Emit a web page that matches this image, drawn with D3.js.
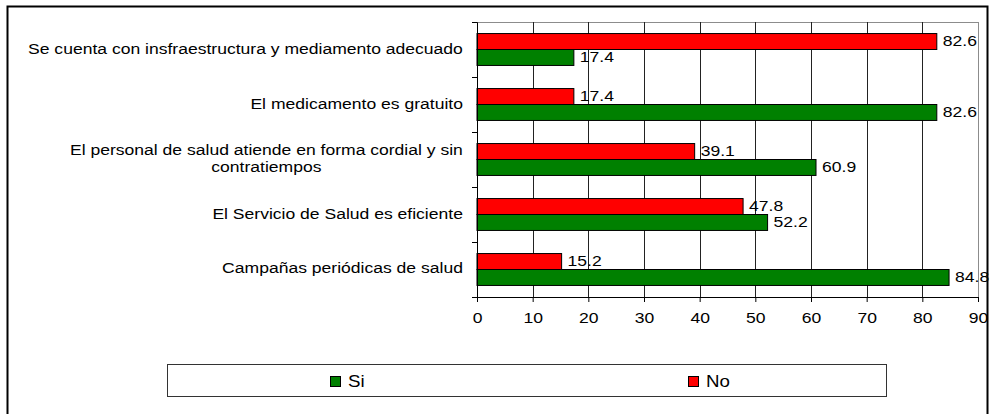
<!DOCTYPE html>
<html>
<head>
<meta charset="utf-8">
<script src="https://cdn.jsdelivr.net/npm/d3@7/dist/d3.min.js"></script>
<style>
  html, body { margin: 0; padding: 0; background: #fff; }
  svg { display: block; }
  text { font-family: "Liberation Sans", Arial, sans-serif; fill: #000; }
</style>
</head>
<body>
<svg id="chart" width="991" height="414"></svg>
<script>
// Survey statements (top to bottom); "\n" marks a line break in the label
const categories = [
  "Se cuenta con insfraestructura y mediamento adecuado",
  "El medicamento es gratuito",
  "El personal de salud atiende en forma cordial y sin\ncontratiempos",
  "El Servicio de Salud es eficiente",
  "Campañas periódicas de salud"
];
const seriesNames = ["No", "Si"];
const siValues = [17.4, 82.6, 60.9, 52.2, 84.8];
const noValues = [82.6, 17.4, 39.1, 47.8, 15.2];
const xTicks = [0, 10, 20, 30, 40, 50, 60, 70, 80, 90];

const colors = { Si: "#008000", No: "#ff0000" };
const values = { Si: siValues, No: noValues };
const fontSize = 15;
const stretch = 1.17; // wide-set lettering used throughout the chart

const svg = d3.select("#chart");

// Outer frame
svg.append("rect")
  .attr("x", 7.5).attr("y", 6.5)
  .attr("width", 980).attr("height", 430)
  .attr("fill", "none").attr("stroke", "#000").attr("stroke-width", 2);

const plot = { left: 477, right: 978, top: 22, bottom: 297 };

const x = d3.scaleLinear().domain([0, 90]).range([plot.left, plot.right]);
const y = d3.scaleBand().domain(categories)
  .range([plot.top, plot.bottom])
  .paddingInner(0.42).paddingOuter(0.21);
const ySeries = d3.scaleBand().domain(seriesNames).range([0, y.bandwidth()]);
const yEdges = d3.scaleLinear().domain([0, categories.length]).range([plot.top, plot.bottom]);

// Plot frame (top and right) and vertical gridlines
svg.append("line")
  .attr("x1", plot.left).attr("x2", plot.right)
  .attr("y1", plot.top + 0.5).attr("y2", plot.top + 0.5)
  .attr("stroke", "#8c8c8c");
svg.append("line")
  .attr("x1", x(90) + 0.5).attr("x2", x(90) + 0.5)
  .attr("y1", plot.top).attr("y2", plot.bottom)
  .attr("stroke", "#8c8c8c");
svg.append("g").selectAll("line")
  .data(xTicks.filter(t => t > 0 && t < 90))
  .join("line")
  .attr("x1", d => Math.round(x(d)) + 0.5).attr("x2", d => Math.round(x(d)) + 0.5)
  .attr("y1", plot.top).attr("y2", plot.bottom)
  .attr("stroke", "#222").attr("stroke-width", 1);

// Bars
const groups = svg.append("g").selectAll("g")
  .data(categories)
  .join("g")
  .attr("transform", d => `translate(0,${y(d)})`);

groups.selectAll("rect")
  .data((d, i) => seriesNames.map(s => ({ s, v: values[s][i] })))
  .join("rect")
  .attr("x", x(0))
  .attr("y", d => ySeries(d.s))
  .attr("width", d => x(d.v) - x(0))
  .attr("height", ySeries.bandwidth())
  .attr("fill", d => colors[d.s])
  .attr("stroke", "#000").attr("stroke-width", 1);

// Value labels
groups.selectAll("text")
  .data((d, i) => seriesNames.map(s => ({ s, v: values[s][i] })))
  .join("text")
  .attr("transform", d =>
    `translate(${x(d.v) + 6},${ySeries(d.s) + ySeries.bandwidth() / 2 - 1}) scale(${stretch},1)`)
  .attr("dominant-baseline", "central")
  .attr("font-size", fontSize)
  .text(d => d.v.toFixed(1));

// Axes
const xAxis = svg.append("g")
  .attr("transform", `translate(0,${plot.bottom})`)
  .call(d3.axisBottom(x).tickValues(xTicks).tickSize(5).tickPadding(10).tickFormat(d3.format("d")));
xAxis.selectAll("text")
  .attr("font-size", fontSize)
  .attr("font-family", "Liberation Sans, Arial, sans-serif")
  .attr("transform", `scale(${stretch},1)`);
xAxis.select(".domain").attr("stroke", "#000");

const yAxis = svg.append("g")
  .attr("transform", `translate(${plot.left},0)`)
  .call(d3.axisLeft(yEdges).tickValues(d3.range(categories.length + 1)).tickSize(5).tickFormat(""));
yAxis.select(".domain").attr("stroke", "#000");

// Category labels
const lineHeight = 17;
svg.append("g").selectAll("text")
  .data(categories)
  .join("text")
  .attr("font-size", fontSize)
  .attr("text-anchor", "middle")
  .each(function (d) {
    const lines = d.split("\n");
    const t = d3.select(this);
    const cy = y(d) + y.bandwidth() / 2 - 1.5;
    lines.forEach((ln, k) => {
      t.append("tspan")
        .attr("x", 0)
        .attr("y", cy + (k - (lines.length - 1) / 2) * lineHeight)
        .attr("dominant-baseline", "central")
        .text(ln);
    });
    // right-align the block, centring the lines within it
    const w = this.getBBox().width * stretch;
    t.attr("transform", `translate(${463 - w / 2},0) scale(${stretch},1)`);
  });

// Legend
const legend = svg.append("g");
legend.append("rect")
  .attr("x", 167.5).attr("y", 364.5)
  .attr("width", 719).attr("height", 32)
  .attr("fill", "#fff").attr("stroke", "#333").attr("stroke-width", 1);

const legendItems = [
  { s: "Si", x: 330 },
  { s: "No", x: 688 }
];
const li = legend.selectAll("g.item")
  .data(legendItems)
  .join("g").attr("class", "item")
  .attr("transform", d => `translate(${d.x},0)`);
li.append("rect")
  .attr("x", 0.5).attr("y", 376.5)
  .attr("width", 10).attr("height", 10)
  .attr("fill", d => colors[d.s]).attr("stroke", "#000");
li.append("text")
  .attr("transform", `translate(18,381) scale(${stretch},1)`)
  .attr("dominant-baseline", "central")
  .attr("font-size", 16)
  .text(d => d.s);
</script>
</body>
</html>
